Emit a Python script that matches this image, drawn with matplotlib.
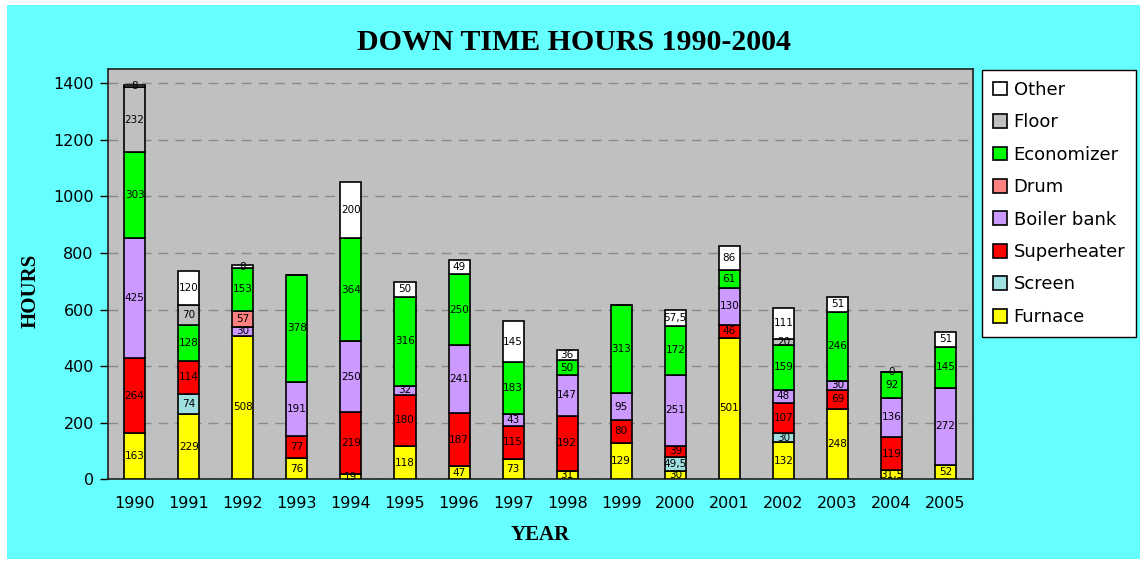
#!/usr/bin/env python3
"""
Down time hours 1990-2004, stacked bars per component
"""

import numpy as np
import matplotlib.pyplot as plt
from matplotlib.patches import Rectangle

years = ['1990', '1991', '1992', '1993', '1994', '1995', '1996', '1997',
         '1998', '1999', '2000', '2001', '2002', '2003', '2004', '2005']

# nan = component not present that year (no label drawn)
nan = np.nan
furnace = [163, 229, 508, 76, 19, 118, 47, 73, 31, 129, 30, 501, 132, 248, 31.5, 52]
screen = [nan, 74, nan, nan, nan, nan, nan, nan, nan, nan, 49.5, nan, 30, nan, nan, nan]
superheater = [264, 114, nan, 77, 219, 180, 187, 115, 192, 80, 39, 46, 107, 69, 119, nan]
boiler_bank = [425, nan, 30, 191, 250, 32, 241, 43, 147, 95, 251, 130, 48, 30, 136, 272]
drum = [nan, nan, 57, nan, nan, nan, nan, nan, nan, nan, nan, nan, nan, nan, nan, nan]
economizer = [303, 128, 153, 378, 364, 316, 250, 183, 50, 313, 172, 61, 159, 246, 92, 145]
floor = [232, 70, nan, nan, nan, nan, nan, nan, nan, nan, nan, nan, 20, nan, nan, nan]
other = [8, 120, 8, nan, 200, 50, 49, 145, 36, nan, 57.5, 86, 111, 51, 0, 51]

series = [
    ('Furnace', furnace, '#FFFF00'),
    ('Screen', screen, '#A0E0E0'),
    ('Superheater', superheater, '#FF0000'),
    ('Boiler bank', boiler_bank, '#CC99FF'),
    ('Drum', drum, '#FF8080'),
    ('Economizer', economizer, '#00FF00'),
    ('Floor', floor, '#C0C0C0'),
    ('Other', other, '#FFFFFF'),
]


def fmt(v):
    if float(v).is_integer():
        return str(int(v))
    return f'{v:g}'.replace('.', ',')


fig = plt.figure(figsize=(11.44, 5.63), dpi=100)
fig.patch.set_facecolor('white')
fig.patches.append(Rectangle((7 / 1144, 4 / 563), 1133 / 1144, 554 / 563,
                             transform=fig.transFigure, facecolor='#66FFFF',
                             edgecolor='none', zorder=-10))

ax = fig.add_axes([0.0941, 0.1487, 0.7561, 0.7287])
ax.set_facecolor('#C0C0C0')

x = np.arange(len(years))
bottom = np.zeros(len(years))
handles = []
for name, vals, color in series:
    arr = np.array(vals, dtype=float)
    h = np.nan_to_num(arr)
    bars = ax.bar(x, h, 0.39, bottom=bottom, color=color, edgecolor='black',
                  linewidth=1.2, label=name, zorder=3)
    handles.append(bars)
    for xi, v, b in zip(x, arr, bottom):
        if np.isnan(v):
            continue
        ax.text(xi, b + v / 2, fmt(v), ha='center', va='center',
                fontsize=7.5, color='black', zorder=4)
    bottom += h

ax.set_xlim(-0.5, 15.5)
ax.set_ylim(0, 1450)
ax.set_yticks(range(0, 1401, 200))
ax.set_xticks(x)
ax.set_xticklabels(years)
ax.tick_params(axis='x', length=0, pad=12, labelsize=11.5)
ax.tick_params(axis='y', length=6, width=1, pad=4, labelsize=11.5)
ax.yaxis.grid(True, linestyle=(0, (7, 5)), color='#8a8a8a', linewidth=1, zorder=0)
for s in ax.spines.values():
    s.set_linewidth(1.2)
    s.set_color('#202020')

fig.text(0.5017, 0.925, 'DOWN TIME HOURS 1990-2004', ha='center', va='center',
         fontsize=21.5, fontweight='bold', family='Liberation Serif')
ax.set_xlabel('YEAR', fontsize=15, fontweight='bold', family='Liberation Serif',
              labelpad=10)
fig.text(0.027, 0.483, 'HOURS', rotation=90, ha='center', va='center',
         fontsize=15, fontweight='bold', family='Liberation Serif')

leg = ax.legend(handles[::-1], [s[0] for s in series][::-1],
                loc='upper left', bbox_to_anchor=(0.8584, 0.8757),
                bbox_transform=fig.transFigure, borderaxespad=0,
                fontsize=13, frameon=True,
                fancybox=False, edgecolor='black', framealpha=1,
                handlelength=0.8, handleheight=0.8, handletextpad=0.35,
                labelspacing=0.8, borderpad=0.6)
leg.get_frame().set_linewidth(1)

plt.savefig('out.png', dpi=100)
plt.close()
